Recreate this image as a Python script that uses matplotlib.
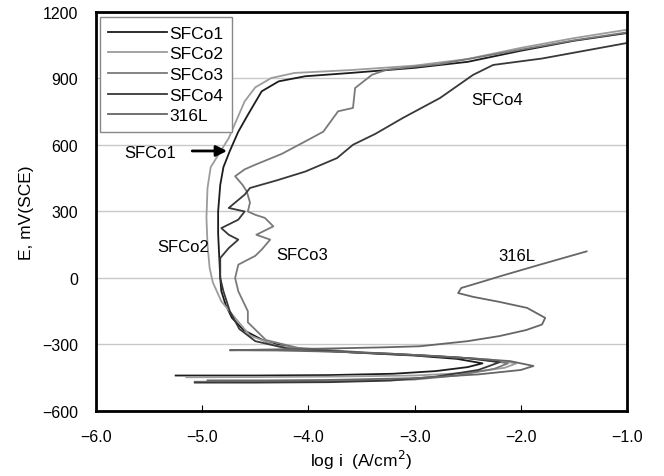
#!/usr/bin/env python3

import matplotlib
matplotlib.use('Agg')
import matplotlib.pyplot as plt

plt.rcParams['font.family'] = ['Liberation Sans', 'DejaVu Sans']

# Polarization curves: log i (A/cm2) vs E (mV SCE)
sfco1_logi = [-5.25, -4.5, -3.8, -3.2, -2.8, -2.5, -2.36, -2.6, -3.0, -3.5, -4.08, -4.39, -4.61,
              -4.72, -4.78, -4.82, -4.83, -4.84, -4.85, -4.85, -4.83, -4.80, -4.74, -4.66, -4.57,
              -4.44, -4.28, -4.03, -3.6, -3.0, -2.5, -2.0, -1.5, -1.0]
sfco1_e = [-440, -440, -438, -432, -420, -402, -385, -365, -350, -338, -322, -290, -235,
           -180, -120, -59, 0, 100, 200, 300, 420, 500, 573, 660, 736,
           842, 887, 910, 925, 948, 975, 1025, 1070, 1105]

sfco2_logi = [-5.15, -4.5, -3.8, -3.0, -2.5, -2.15, -2.04, -2.3, -2.8, -3.3, -3.9, -4.3, -4.55,
              -4.69, -4.82, -4.90, -4.93, -4.95, -4.96, -4.95, -4.92, -4.75, -4.60, -4.50, -4.35,
              -4.13, -3.6, -3.0, -2.5, -2.0, -1.5, -1.0]
sfco2_e = [-448, -447, -445, -440, -428, -405, -385, -368, -352, -340, -330, -305, -260,
           -180, -105, -20, 45, 150, 271, 406, 500, 631, 797, 860, 902,
           925, 938, 958, 988, 1038, 1082, 1120]

sfco3_logi = [-5.07, -4.5, -3.8, -3.0, -2.6, -2.25, -2.12, -2.4, -2.9, -3.5, -4.1, -4.4, -4.57,
              -4.57, -4.66, -4.69, -4.66, -4.50, -4.44, -4.36, -4.49, -4.33, -4.41, -4.50, -4.57,
              -4.55, -4.58, -4.62, -4.69, -4.60, -4.50, -4.25, -4.03, -3.86, -3.72, -3.58, -3.56,
              -3.40, -3.26, -2.76, -2.0, -1.5, -1.0]
sfco3_e = [-468, -468, -466, -458, -440, -410, -385, -365, -350, -335, -315, -280, -200,
           -150, -60, 0, 60, 100, 128, 173, 195, 233, 271, 285, 300,
           340, 390, 420, 459, 490, 511, 560, 616, 660, 752, 767, 857,
           917, 940, 965, 1030, 1072, 1108]

sfco4_logi = [-5.07, -4.5, -3.8, -3.23, -2.8, -2.4, -2.2, -2.5, -3.0, -3.6, -4.2, -4.5, -4.65,
              -4.74, -4.80, -4.83, -4.83, -4.75, -4.66, -4.75, -4.82, -4.66, -4.60, -4.75, -4.60,
              -4.55, -4.30, -4.03, -3.73, -3.58, -3.37, -3.11, -2.76, -2.45, -2.26, -1.8, -1.4, -1.0]
sfco4_e = [-472, -472, -470, -463, -445, -415, -380, -362, -348, -335, -318, -285, -230,
           -150, -60, 0, 90, 135, 173, 195, 225, 263, 300, 316, 376,
           406, 440, 480, 541, 601, 650, 722, 812, 916, 961, 990, 1025, 1060]

l316_logi = [-4.95, -4.4, -3.8, -3.0, -2.4, -2.0, -1.88, -2.1, -2.6, -3.2, -3.8, -4.3, -4.74,
             -4.3, -3.8, -3.3, -2.95, -2.5, -2.2, -1.95, -1.80, -1.77, -1.94, -2.2, -2.45,
             -2.59, -2.56, -2.35, -2.20, -1.82, -1.60, -1.38]
l316_e = [-462, -462, -460, -452, -435, -415, -397, -375, -358, -342, -332, -327, -326,
          -322, -318, -313, -308, -285, -262, -235, -210, -180, -135, -108, -85,
          -68, -45, -15, 7, 60, 90, 120]

names = ['SFCo1', 'SFCo2', 'SFCo3', 'SFCo4', '316L']
colors = ['#1c1c1c', '#9c9c9c', '#7a7a7a', '#383838', '#666666']

fig = plt.figure(figsize=(6.64, 4.77), dpi=100)
ax = fig.add_axes([0.1446, 0.1363, 0.7996, 0.8365])

curves = [(sfco1_logi, sfco1_e), (sfco2_logi, sfco2_e), (sfco3_logi, sfco3_e),
          (sfco4_logi, sfco4_e), (l316_logi, l316_e)]
for (x, y), name, c in zip(curves, names, colors):
    ax.plot(x, y, color=c, lw=1.3, label=name)

ax.set_xlim(-6, -1)
ax.set_ylim(-600, 1200)
ax.set_xticks([-6, -5, -4, -3, -2, -1])
ax.set_xticklabels(['\u22126.0', '\u22125.0', '\u22124.0', '\u22123.0', '\u22122.0', '\u22121.0'])
ax.set_yticks([-600, -300, 0, 300, 600, 900, 1200])
ax.grid(axis='y', color='#c8c8c8', lw=1)
ax.set_axisbelow(True)
ax.tick_params(axis='x', direction='in', length=4, labelsize=11.5, pad=13)
ax.tick_params(axis='y', direction='in', length=0, labelsize=11.5, pad=13)
for s in ax.spines.values():
    s.set_linewidth(2)

ax.set_xlabel('log i  (A/cm$^2$)', fontsize=12.5, labelpad=3)
ax.set_ylabel('E, mV(SCE)', fontsize=12.5, labelpad=6)

leg = ax.legend(loc='upper left', bbox_to_anchor=(0.007, 0.988), borderaxespad=0,
                fancybox=False, framealpha=1, edgecolor='#888888', fontsize=12.5,
                handlelength=3.4, handletextpad=0.1, labelspacing=0.32, borderpad=0.5)
leg.get_frame().set_linewidth(1)

# curve labels
ax.text(-5.49, 564, 'SFCo1', fontsize=12, ha='center', va='center')
ax.annotate('', xy=(-4.74, 573), xytext=(-5.12, 573),
            arrowprops=dict(arrowstyle='-|>', color='black', lw=2, mutation_scale=16))
ax.text(-5.18, 144, 'SFCo2', fontsize=12, ha='center', va='center')
ax.text(-4.06, 104, 'SFCo3', fontsize=12, ha='center', va='center')
ax.text(-2.22, 804, 'SFCo4', fontsize=12, ha='center', va='center')
ax.text(-2.04, 102, '316L', fontsize=12, ha='center', va='center')

fig.savefig('out.png', dpi=100)
